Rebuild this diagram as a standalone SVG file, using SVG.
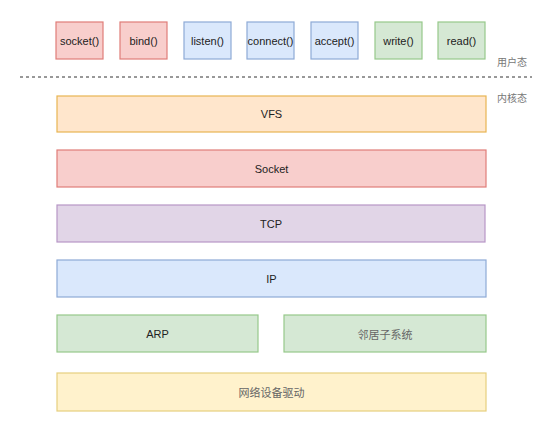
<svg xmlns="http://www.w3.org/2000/svg" width="540" height="431" viewBox="0 0 540 431">
<style>
.red{fill:#f8cecc;stroke:#e07d78;}
.blue{fill:#dae8fc;stroke:#8eaad6;}
.green{fill:#d5e8d4;stroke:#97c98a;}
.orange{fill:#ffe6cc;stroke:#e8b552;}
.purple{fill:#e1d5e7;stroke:#b797c6;}
.yellow{fill:#fff2cc;stroke:#e6cf7e;}
rect{stroke-width:1.2;}
.t{font-family:"Liberation Sans",Arial,sans-serif;font-size:11px;fill:#222;text-anchor:middle;dominant-baseline:central;}
.c{font-family:"Noto Sans CJK SC","Noto Sans",serif;font-size:11px;fill:#666;text-anchor:middle;dominant-baseline:central;}
.side{font-family:"Noto Sans CJK SC","Noto Sans",serif;font-size:10px;fill:#777;dominant-baseline:central;}
</style>
<rect width="540" height="431" fill="#ffffff" stroke="none"/>
<g id="socket-fn"><rect class="red" x="56" y="22" width="47" height="37"/><text class="t" x="79.5" y="40.5">socket()</text></g>
<g id="bind-fn"><rect class="red" x="120" y="22" width="47" height="37"/><text class="t" x="143.5" y="40.5">bind()</text></g>
<g id="listen-fn"><rect class="blue" x="184" y="22" width="47" height="37"/><text class="t" x="207.5" y="40.5">listen()</text></g>
<g id="connect-fn"><rect class="blue" x="247" y="22" width="47" height="37"/><text class="t" x="270.5" y="40.5">connect()</text></g>
<g id="accept-fn"><rect class="blue" x="311" y="22" width="47" height="37"/><text class="t" x="334.5" y="40.5">accept()</text></g>
<g id="write-fn"><rect class="green" x="375" y="22" width="47" height="37"/><text class="t" x="398.5" y="40.5">write()</text></g>
<g id="read-fn"><rect class="green" x="438" y="22" width="47" height="37"/><text class="t" x="461.5" y="40.5">read()</text></g>
<g id="divider"><line x1="20" y1="77" x2="532" y2="77" stroke="#333" stroke-width="1" stroke-dasharray="3,3"/></g>
<g id="user-label"><text class="side" x="497" y="61">用户态</text></g>
<g id="kernel-label"><text class="side" x="497" y="97">内核态</text></g>
<g id="vfs"><rect class="orange" x="57" y="96" width="429" height="36"/><text class="t" x="271.5" y="114">VFS</text></g>
<g id="socket"><rect class="red" x="57" y="150" width="429" height="37"/><text class="t" x="271.5" y="168.5">Socket</text></g>
<g id="tcp"><rect class="purple" x="57" y="205" width="428" height="37"/><text class="t" x="271" y="223.5">TCP</text></g>
<g id="ip"><rect class="blue" x="57" y="260" width="429" height="37"/><text class="t" x="271.5" y="278.5">IP</text></g>
<g id="arp"><rect class="green" x="57" y="315" width="201" height="37"/><text class="t" x="157.5" y="333.5">ARP</text></g>
<g id="neighbor"><rect class="green" x="284" y="315" width="202" height="37"/><text class="c" x="385" y="333.5">邻居子系统</text></g>
<g id="driver"><rect class="yellow" x="57" y="373" width="429" height="38"/><text class="c" x="271.5" y="392">网络设备驱动</text></g>
<g id="connectors"></g>
</svg>
